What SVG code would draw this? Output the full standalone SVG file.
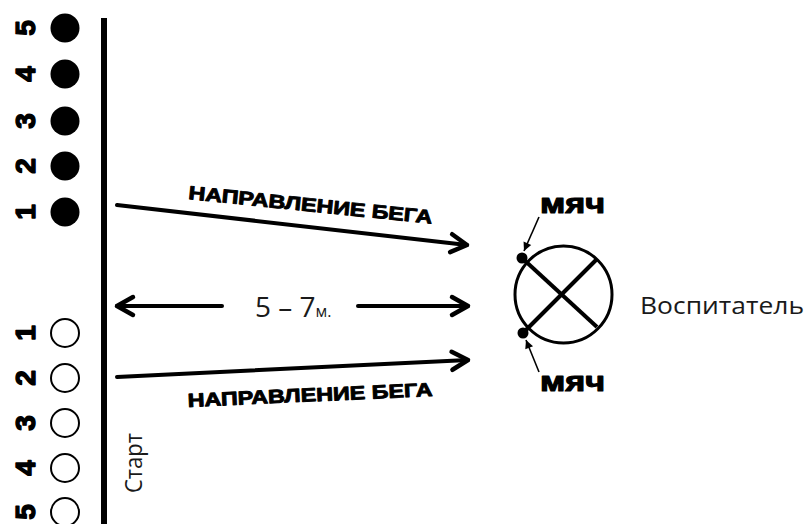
<svg xmlns="http://www.w3.org/2000/svg" width="808" height="524" viewBox="0 0 808 524">
<style>
.num{font-family:"Liberation Sans",Arial,sans-serif;font-weight:bold;font-size:28px;fill:#000;stroke:#000;stroke-width:1.4;stroke-linejoin:round;text-anchor:middle}
.lbl{font-family:"Liberation Sans",Arial,sans-serif;font-weight:bold;font-size:19px;fill:#000;stroke:#000;stroke-width:0.9;stroke-linejoin:round}
.ball{font-family:"Liberation Sans",Arial,sans-serif;font-weight:bold;font-size:27px;fill:#000;stroke:#000;stroke-width:1.1;stroke-linejoin:round}
.plain{font-family:"Open Sans","Noto Sans",sans-serif;fill:#1a1a1a}
.line{stroke:#000;stroke-width:4;fill:none;stroke-linecap:round}
.thin{stroke:#000;stroke-width:1.6;fill:none}
.open{fill:#fff;stroke:#000;stroke-width:2}
</style>
<defs>
<marker id="chev" markerUnits="userSpaceOnUse" markerWidth="30" markerHeight="30" viewBox="-22 -15 30 30" refX="0" refY="0" orient="auto-start-reverse">
<path d="M-16,-9 L0,0 L-16,9" fill="none" stroke="#000" stroke-width="4.5" stroke-linecap="round" stroke-linejoin="round"/>
</marker>
<marker id="tri" markerUnits="userSpaceOnUse" markerWidth="12" markerHeight="12" viewBox="-8 -5 10 10" refX="0" refY="0" orient="auto">
<path d="M-7,-3.5 L0,0 L-7,3.5 Z" fill="#000"/>
</marker>
</defs>
<rect width="808" height="524" fill="#fff"/>

<g id="start-line">
<line x1="104" y1="18" x2="104" y2="524" stroke="#000" stroke-width="6"/>
<text class="plain" font-size="24" text-anchor="middle" textLength="60" lengthAdjust="spacingAndGlyphs" transform="translate(142,463) rotate(-90)">Старт</text>
</g>

<g id="team-filled">
<circle cx="65" cy="28" r="14.5" fill="#000"/>
<circle cx="65" cy="74" r="14.5" fill="#000"/>
<circle cx="65" cy="121" r="14.5" fill="#000"/>
<circle cx="65" cy="166" r="14.5" fill="#000"/>
<circle cx="65" cy="212" r="14.5" fill="#000"/>
<text class="num" transform="translate(35,28) rotate(-90)">5</text>
<text class="num" transform="translate(35,74) rotate(-90)">4</text>
<text class="num" transform="translate(35,121) rotate(-90)">3</text>
<text class="num" transform="translate(35,166) rotate(-90)">2</text>
<text class="num" transform="translate(35,212) rotate(-90)">1</text>
</g>

<g id="team-open">
<circle class="open" cx="65" cy="333" r="14"/>
<circle class="open" cx="65" cy="378" r="14"/>
<circle class="open" cx="65" cy="423" r="14"/>
<circle class="open" cx="65" cy="468" r="14"/>
<circle class="open" cx="65" cy="512" r="14"/>
<text class="num" transform="translate(35,333) rotate(-90)">1</text>
<text class="num" transform="translate(35,378) rotate(-90)">2</text>
<text class="num" transform="translate(35,423) rotate(-90)">3</text>
<text class="num" transform="translate(35,468) rotate(-90)">4</text>
<text class="num" transform="translate(35,512) rotate(-90)">5</text>
</g>

<g id="connectors">
<line class="line" x1="117" y1="205" x2="467" y2="245" marker-end="url(#chev)"/>
<line class="line" x1="117" y1="306" x2="222" y2="306" marker-start="url(#chev)"/>
<line class="line" x1="358" y1="306" x2="468" y2="306" marker-end="url(#chev)"/>
<line class="line" x1="117" y1="377" x2="468" y2="360" marker-end="url(#chev)"/>
<line class="thin" x1="539" y1="217" x2="524" y2="251" marker-end="url(#tri)"/>
<line class="thin" x1="539" y1="372" x2="526" y2="340" marker-end="url(#tri)"/>
</g>

<g id="labels">
<text class="lbl" textLength="245" lengthAdjust="spacingAndGlyphs" transform="translate(188,199) rotate(5.8)">НАПРАВЛЕНИЕ БЕГА</text>
<text class="lbl" textLength="245" lengthAdjust="spacingAndGlyphs" transform="translate(188,407) rotate(-2.6)">НАПРАВЛЕНИЕ БЕГА</text>
<text class="plain" x="255" y="317" font-size="28">5 – 7<tspan font-size="16">м.</tspan></text>
</g>

<g id="teacher">
<circle cx="563.5" cy="294.5" r="48.5" fill="none" stroke="#000" stroke-width="3"/>
<line x1="522" y1="258" x2="597" y2="327" stroke="#000" stroke-width="4"/>
<line x1="523" y1="333" x2="597" y2="259" stroke="#000" stroke-width="4"/>
<text class="plain" x="640" y="314" font-size="24" textLength="164" lengthAdjust="spacingAndGlyphs">Воспитатель</text>
</g>

<g id="ball-top">
<circle cx="522" cy="258" r="5.5" fill="#000"/>
<text class="ball" x="540" y="213" textLength="65" lengthAdjust="spacingAndGlyphs">мяч</text>
</g>

<g id="ball-bottom">
<circle cx="523" cy="333" r="5.5" fill="#000"/>
<text class="ball" x="540" y="391" textLength="65" lengthAdjust="spacingAndGlyphs">мяч</text>
</g>
</svg>
